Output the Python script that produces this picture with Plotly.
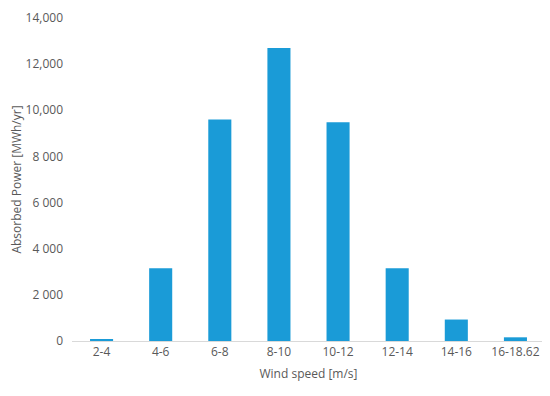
import plotly.graph_objects as go

categories = ["2-4", "4-6", "6-8", "8-10", "10-12", "12-14", "14-16", "16-18.62"]
absorbed_power = [50, 3150, 9600, 12700, 9480, 3150, 930, 160]

y_tick_vals = [0, 2000, 4000, 6000, 8000, 10000, 12000, 14000]
y_tick_text = ["0", "2 000", "4 000", "6 000", "8 000", "10,000", "12,000", "14,000"]

fig = go.Figure()
fig.add_trace(go.Bar(
    x=categories,
    y=absorbed_power,
    marker_color="#1a9bd7",
    marker_line_width=0,
))

# page body adds an 8px offset, so the figure is sized to fit the window;
# top margin leaves room so the 14,000 label is not hidden
fig.update_layout(
    width=542, height=388,
    margin=dict(l=64, r=5, t=10, b=55),
    plot_bgcolor="white",
    paper_bgcolor="white",
    font=dict(family="Open Sans, sans-serif", size=12, color="#595959"),
    bargap=0.61,
    showlegend=False,
    xaxis=dict(
        type="category", automargin=False,
        title=dict(text="Wind speed [m/s]", standoff=10, font=dict(size=12)),
        showline=True, linecolor="#d9d9d9", linewidth=1,
        showgrid=False, ticks="", tickfont=dict(size=12),
    ),
    yaxis=dict(
        automargin=False,
        title=dict(text="Absorbed Power [MWh/yr]", standoff=18, font=dict(size=12)),
        range=[0, 14000],
        tickvals=y_tick_vals, ticktext=y_tick_text,
        showgrid=False, zeroline=False, showline=False,
        ticks="", ticklabelstandoff=8, tickfont=dict(size=12),
    ),
)

fig.write_html("out.html")
